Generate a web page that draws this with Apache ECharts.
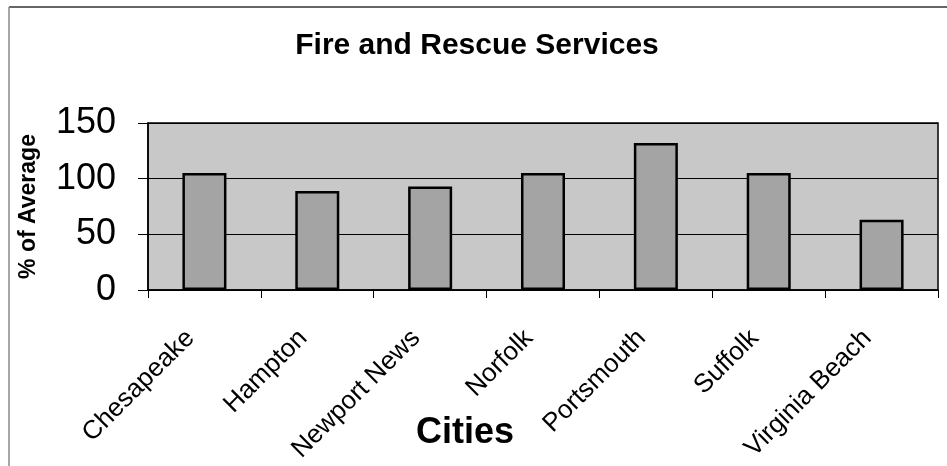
<!DOCTYPE html>
<html>
<head>
<meta charset="utf-8">
<script src="https://cdn.jsdelivr.net/npm/echarts@6/dist/echarts.min.js"></script>
<style>
  html, body { margin: 0; padding: 0; background: #fff; }
  #chart { width: 947px; height: 466px; }
</style>
</head>
<body>
<div id="chart"></div>
<script>
// cities and their % of the regional average
const cities = ['Chesapeake', 'Hampton', 'Newport News', 'Norfolk', 'Portsmouth', 'Suffolk', 'Virginia Beach']
const pctOfAverage = [105, 89, 93, 105, 132, 105, 63]
const yTicks = [0, 50, 100, 150]

const chart = echarts.init(document.getElementById('chart'))
const font = 'Liberation Sans, Arial, sans-serif'

chart.setOption({
  animation: false,
  title: [
    {
      text: 'Fire and Rescue Services',
      left: 472,
      top: 26,
      textAlign: 'center',
      textStyle: { fontFamily: font, fontSize: 30, fontWeight: 'bold', color: '#000' }
    },
    {
      text: 'Cities',
      left: 460,
      top: 410,
      textAlign: 'center',
      textStyle: { fontFamily: font, fontSize: 36, fontWeight: 'bold', color: '#000' }
    }
  ],
  grid: {
    left: 148,
    right: 9,
    top: 123,
    bottom: 176,
    show: true,
    backgroundColor: '#c8c8c8',
    borderColor: '#000',
    borderWidth: 1.5
  },
  xAxis: {
    type: 'category',
    data: cities,
    axisLine: { lineStyle: { color: '#000', width: 1.5 } },
    axisTick: { show: true, length: 8, lineStyle: { color: '#000' } },
    axisLabel: {
      rotate: 45,
      margin: 30,
      padding: [0, 20, 0, 0],
      interval: 0,
      fontFamily: font,
      fontSize: 26,
      color: '#000'
    }
  },
  yAxis: {
    type: 'value',
    min: yTicks[0],
    max: yTicks[yTicks.length - 1],
    interval: 50,
    name: '% of Average',
    nameLocation: 'middle',
    nameGap: 108,
    nameTextStyle: { fontFamily: font, fontSize: 23, fontWeight: 'bold', color: '#000' },
    axisLine: { show: true, lineStyle: { color: '#000', width: 1.5 } },
    axisTick: { show: true, length: 10, lineStyle: { color: '#000' } },
    axisLabel: {
      margin: 32,
      fontFamily: font,
      fontSize: 36,
      color: '#000'
    },
    splitLine: { show: true, lineStyle: { color: '#000', width: 1 } }
  },
  series: [
    {
      type: 'bar',
      data: pctOfAverage,
      barWidth: '39%',
      itemStyle: {
        color: '#a4a4a4',
        borderColor: '#000',
        borderWidth: 2.5
      }
    }
  ],
  graphic: [
    // the outer frame: only the top and left edges show in the scan
    { type: 'line', shape: { x1: 9, y1: 7, x2: 947, y2: 7 }, style: { stroke: '#333', lineWidth: 1.5 } },
    { type: 'line', shape: { x1: 9, y1: 7, x2: 9, y2: 466 }, style: { stroke: '#888', lineWidth: 1.5 } }
  ]
})
</script>
</body>
</html>
